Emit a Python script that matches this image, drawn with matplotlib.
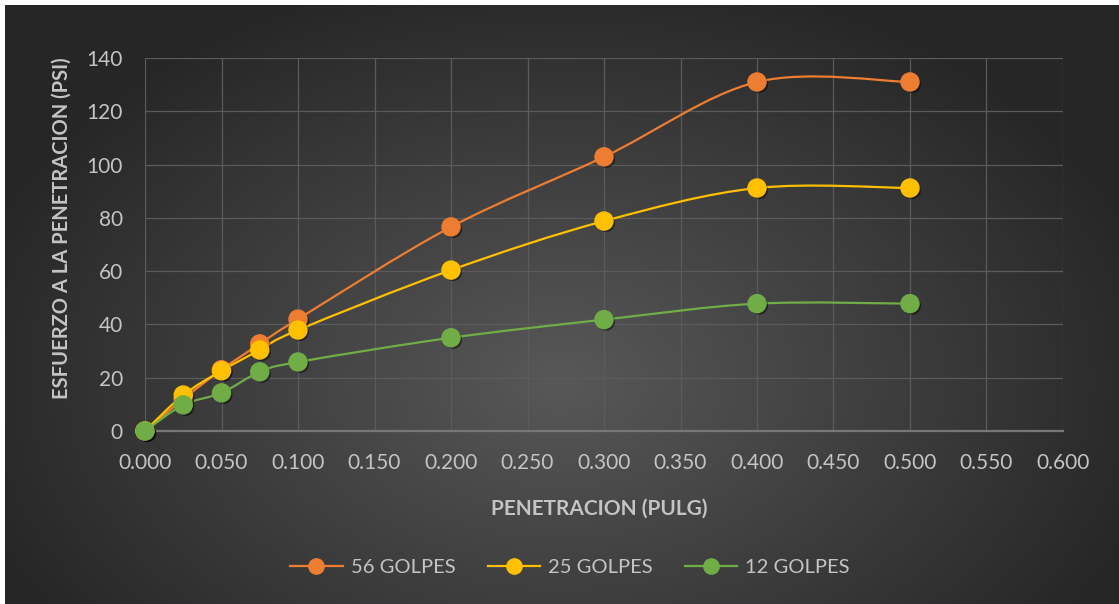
import numpy as np
import matplotlib
matplotlib.use('Agg')
import matplotlib.pyplot as plt
from matplotlib.path import Path
from matplotlib.patches import PathPatch
from matplotlib.lines import Line2D
import matplotlib.patheffects as pe

plt.rcParams['font.family'] = ['Lato', 'DejaVu Sans']

penetracion = [0.000, 0.025, 0.050, 0.075, 0.100, 0.200, 0.300, 0.400, 0.500]
golpes56 = [0, 12, 23, 32.7, 42, 76.6, 102.9, 131, 131]
golpes25 = [0, 13.5, 22.6, 30.4, 37.9, 60.4, 78.8, 91.2, 91.2]
golpes12 = [0, 9.8, 14.3, 22.2, 25.9, 35.0, 41.8, 47.8, 47.8]
series_names = ['56 GOLPES', '25 GOLPES', '12 GOLPES']
series_colors = ['#ED7D31', '#FFC000', '#70AD47']
x_ticks = np.arange(0, 0.6001, 0.05)
y_ticks = np.arange(0, 141, 20)

W, H = 1119, 604
txt = '#c4c4c4'


def smooth_path(xs, ys):
    # Bezier segments, Excel-like smoothed line
    pts = np.column_stack([xs, ys]).astype(float)
    verts = [pts[0]]
    codes = [Path.MOVETO]
    n = len(pts)
    for i in range(n - 1):
        p0 = pts[max(i - 1, 0)]
        p1 = pts[i]
        p2 = pts[i + 1]
        p3 = pts[min(i + 2, n - 1)]
        c1 = p1 + (p2 - p0) / 6.0
        c2 = p2 - (p3 - p1) / 6.0
        verts += [c1, c2, p2]
        codes += [Path.CURVE4] * 3
    return Path(verts, codes)


fig = plt.figure(figsize=(W / 100, H / 100), dpi=100, facecolor='white')

# dark radial background
bg = fig.add_axes([5 / W, 0, 1 - 5 / W, (H - 5) / H])
yy, xx = np.mgrid[5:H, 5:W]
r = np.sqrt(((xx - 560) / 620.0) ** 2 + ((yy - 380) / 420.0) ** 2)
r = np.clip(r, 0, 1)
c_in = np.array([0x58, 0x58, 0x58]) / 255
c_out = np.array([0x26, 0x26, 0x26]) / 255
img = c_in[None, None, :] * (1 - r[..., None]) + c_out[None, None, :] * r[..., None]
bg.imshow(img, aspect='auto', extent=[0, 1, 0, 1], origin='upper')
bg.axis('off')

ax = fig.add_axes([145 / W, 173 / H, (1063 - 145) / W, (431 - 58) / H])
ax.set_facecolor('none')
ax.set_xlim(0, 0.6)
ax.set_ylim(0, 140)
ax.set_xticks(x_ticks)
ax.set_yticks(y_ticks)
ax.set_xticklabels(['%.3f' % v for v in x_ticks])
ax.set_yticklabels(['%d' % v for v in y_ticks])
ax.tick_params(length=0, colors=txt, labelsize=15)
ax.tick_params(axis='x', pad=16)
ax.tick_params(axis='y', pad=16)
ax.grid(True, color='#5b5b5b', linewidth=0.9)
ax.set_axisbelow(True)
for s in ['top', 'right', 'left']:
    ax.spines[s].set_visible(False)
ax.spines['bottom'].set_color('#777777')
ax.spines['bottom'].set_linewidth(1.6)

shadow = [pe.SimplePatchShadow(offset=(1.5, -1.5), shadow_rgbFace='black', alpha=0.45), pe.Normal()]
for ys, col in zip([golpes56, golpes25, golpes12], series_colors):
    patch = PathPatch(smooth_path(penetracion, ys), facecolor='none', edgecolor=col,
                      linewidth=1.6, zorder=3)
    ax.add_patch(patch)
    ax.plot(penetracion, ys, linestyle='none', marker='o', markersize=13,
            markerfacecolor=col, markeredgecolor=col, zorder=4, clip_on=False,
            path_effects=shadow)

fig.text(599 / W, 1 - 509 / H, 'PENETRACION (PULG)', color=txt, fontsize=15,
         fontweight='bold', ha='center', va='center')
fig.text(62 / W, 1 - 228 / H, 'ESFUERZO A LA PENETRACION (PSI)', color=txt, fontsize=14.5,
         fontweight='bold', ha='center', va='center', rotation=90)

handles = [Line2D([], [], color=c, linewidth=1.6, marker='o', markersize=11,
                  markerfacecolor=c, markeredgecolor=c) for c in series_colors]
fig.legend(handles, series_names, loc='center', bbox_to_anchor=(570 / W, 1 - 567 / H),
           ncol=3, frameon=False, fontsize=14.5, labelcolor=txt, handlelength=2.6,
           handletextpad=0.4, columnspacing=1.6)

fig.savefig('out.png', dpi=100, facecolor=fig.get_facecolor())
